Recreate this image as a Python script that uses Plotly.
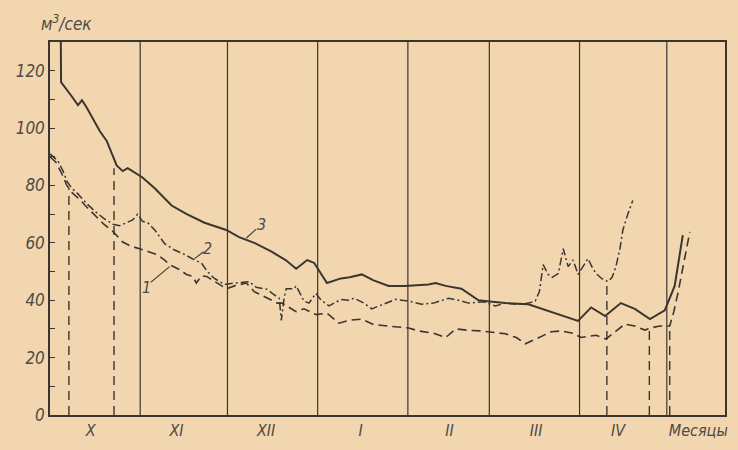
import numpy as np
import plotly.graph_objects as go

# ---------------- data (day counted from 1 October, discharge m3/s) ----------------
month_labels = ["X", "XI", "XII", "I", "II", "III", "IV", "Месяцы"]
month_label_days = [14, 43.5, 74.3, 106.8, 137.3, 167.1, 195.2, 222.8]
month_lengths = [31, 30, 31, 31, 28, 31, 30]

c3_days = [3.7, 3.8, 7.5, 9.6, 11.0, 12.7, 17.1, 19.5, 22.9, 25.0, 26.7, 28.4, 31.8, 36, 41.8, 47,
           53.1, 60.6, 65, 70.2, 76, 81, 84.6, 88.4, 90.8, 95.2, 100, 103, 107.2, 111, 116.4, 122,
           130.1, 132.5, 136, 141.4, 147.3, 152, 156.5, 164.4, 172, 181.5, 186, 190.8, 196.2, 201,
           206.2, 211.3, 214.7, 217.5]
c3_vals = [135, 116, 111, 108, 109.7, 107, 99, 95.5, 87, 85, 86, 85, 82.8, 79, 73, 70,
           67, 64.5, 62, 60, 57, 54, 51, 54, 53, 46, 47.6, 48, 49, 47, 45, 45,
           45.5, 46, 45, 44, 40, 39.5, 39, 38.6, 36, 32.8, 37.5, 34.5, 39, 37,
           33.4, 36.5, 45, 62.7]

c2_days = [0, 2.7, 4.5, 5.8, 7.5, 9.2, 12.3, 15.4, 18.5, 21.6, 24, 26.4, 28.4, 30.1, 31.8, 33.6,
           36, 39.4, 42.8, 46.2, 49.7, 52, 54.1, 56.5, 60, 63.4, 66.8, 68.5, 70.9, 74.7, 76.4, 78.8,
           79.5, 80.5, 81.2, 83.9, 84.6, 87.3, 89, 91.4, 93.2, 95.9, 100, 102.7, 104.5, 107.9, 110.6,
           115.4, 118.8, 123.3, 127.7, 131.8, 137, 140.4, 143.8, 149, 153.1, 156.5, 161, 164.4, 166.8,
           168.2, 169.5, 171.2, 172.6, 174.7, 176.4, 178.1, 179.8, 181.5, 183.2, 184.9, 186.6, 187.7,
           189.7, 191.8, 193.2, 194.5, 195.9, 196.9, 198.6, 200.3]
c2_vals = [91, 88.6, 85, 81.5, 79, 77.5, 74, 71, 68.5, 66.5, 66, 67, 68, 70, 67.5, 67,
           64.5, 59.7, 57.5, 56, 54, 53, 50, 47.6, 45.5, 46, 46.5, 46.5, 44.5, 43.8, 42.4, 40.7,
           33, 41, 44, 44, 45, 39.7, 39, 42.4, 40, 38, 40.3, 40, 40.7, 39, 37,
           39, 40.3, 39.7, 38.6, 39, 40.7, 40, 39, 39.5, 38, 39, 38.5, 39, 39.7,
           43, 52.4, 49, 48, 49.3, 58, 51.7, 54, 49, 52, 54.5, 51, 49.3,
           47.5, 46.5, 48, 51.7, 58, 64.5, 70, 74.8]

c1_days = [0, 2.1, 4.1, 5.8, 7.5, 10.3, 12.7, 15.4, 18.5, 21.6, 25, 27.4, 30.8, 33.6, 36.6, 39.4,
           41.1, 44.5, 46.9, 49, 50.3, 52.1, 53.8, 57.2, 60.6, 63.4, 67.5, 70.2, 73.6, 78.1, 79.8,
           84.6, 87.3, 91.4, 95.2, 99.3, 102.7, 107.2, 111.3, 116.4, 123.3, 126.7, 131.8, 136, 139.4,
           143.8, 148.3, 156.5, 160.3, 163.4, 167.8, 172.3, 175.7, 179.8, 182.5, 187.7, 191.1, 194.2,
           197.6, 201, 204.5, 206.2, 209.6, 213, 214.4, 215.8, 217.8, 219.9]
c1_vals = [90, 88, 84, 80, 77.6, 75, 72.4, 69.5, 66.5, 64, 60.3, 59, 58, 57, 56, 54,
           52.4, 50.7, 49, 48.3, 46, 48.5, 48.3, 46, 44, 45, 46, 43, 41.4, 39, 39,
           36, 37, 35, 35.5, 32, 33, 33.4, 31.5, 31, 30.3, 29.3, 28.5, 27, 30,
           29.5, 29.3, 28.3, 27, 24.8, 27, 29, 29.3, 28.5, 27, 27.8, 26.5, 29,
           31.7, 31, 29.6, 30.3, 31, 31, 36, 42.4, 53, 63.8]

drop_days = [6.5, 22, 191.4, 206, 213]
drop_vals = [79, 86, 46.5, 30, 31]

curve_names = ["1", "2", "3"]
curve_label_pos = [(33.2, 44.5), (54.3, 58.0), (72.8, 66.3)]
curve_leader_from = [(34.6, 46.2), (49.7, 54.5), (67.5, 61.7)]
curve_leader_to = [(41.1, 51.7), (52.8, 56.9), (70.9, 64.8)]

y_tick_vals = list(range(0, 130, 10))
y_tick_text = [str(v) if v % 20 == 0 else "" for v in y_tick_vals]

# ---------------- style ----------------
PAPER = "#f1d6b0"
INK = "#3a362f"
TXT = "#4f4a43"
FONT = "Liberation Sans Narrow, DejaVu Sans Condensed, Liberation Sans, sans-serif"

fig = go.Figure()

# month boundary lines
boundaries = np.cumsum(month_lengths)
for b in boundaries:
    fig.add_shape(type="line", xref="x", yref="y", x0=b, x1=b, y0=0, y1=130,
                  line=dict(color=INK, width=1.2), layer="below")

# drop lines (dashed verticals)
for d, v in zip(drop_days, drop_vals):
    fig.add_trace(go.Scatter(x=[d, d], y=[0, v], mode="lines", showlegend=False,
                             line=dict(color=INK, width=1.4, dash="9px,6px"), hoverinfo="skip"))

fig.add_trace(go.Scatter(x=c1_days, y=c1_vals, mode="lines", name="1", showlegend=False,
                         line=dict(color=INK, width=1.6, dash="9px,5px")))
fig.add_trace(go.Scatter(x=c2_days, y=c2_vals, mode="lines", name="2", showlegend=False,
                         line=dict(color=INK, width=1.5, dash="8px,3px,2px,3px")))
fig.add_trace(go.Scatter(x=c3_days, y=c3_vals, mode="lines", name="3", showlegend=False,
                         line=dict(color=INK, width=2.0)))

# curve labels with leaders
for name, (lx, ly), (fx, fy), (tx, ty) in zip(curve_names, curve_label_pos,
                                               curve_leader_from, curve_leader_to):
    fig.add_trace(go.Scatter(x=[fx, tx], y=[fy, ty], mode="lines", showlegend=False,
                             line=dict(color=INK, width=1.1), hoverinfo="skip"))
    fig.add_annotation(x=lx, y=ly, xref="x", yref="y", text=name, showarrow=False,
                       font=dict(family=FONT, size=16, color=TXT, style="italic"))

# unit label
fig.add_annotation(x=-0.016, y=1.05, xref="paper", yref="paper", text="м<sup>3</sup>/сек",
                   showarrow=False, xanchor="left", yanchor="middle",
                   font=dict(family=FONT, size=17, color=TXT, style="italic"))

fig.update_layout(
    width=738, height=450,
    margin=dict(l=50, r=10, t=42, b=30),
    paper_bgcolor=PAPER, plot_bgcolor=PAPER,
    showlegend=False,
    xaxis=dict(range=[0, 232], tickvals=month_label_days, ticktext=month_labels,
               ticks="", showgrid=False, zeroline=False,
               showline=True, linecolor=INK, linewidth=1.5, mirror=True,
               tickfont=dict(family=FONT, size=16, color=TXT, style="italic")),
    yaxis=dict(range=[0, 130], tickvals=y_tick_vals, ticktext=y_tick_text,
               ticks="inside", ticklen=5, tickcolor=INK, tickwidth=1.2,
               showgrid=False, zeroline=False,
               showline=True, linecolor=INK, linewidth=1.5, mirror=True,
               tickfont=dict(family=FONT, size=17, color=TXT, style="italic")),
)

fig.write_html("out.html", config={"displayModeBar": False},
               post_script="document.body.style.margin='0';document.body.style.overflow='hidden';"
                           "document.body.style.background='" + PAPER + "';")
